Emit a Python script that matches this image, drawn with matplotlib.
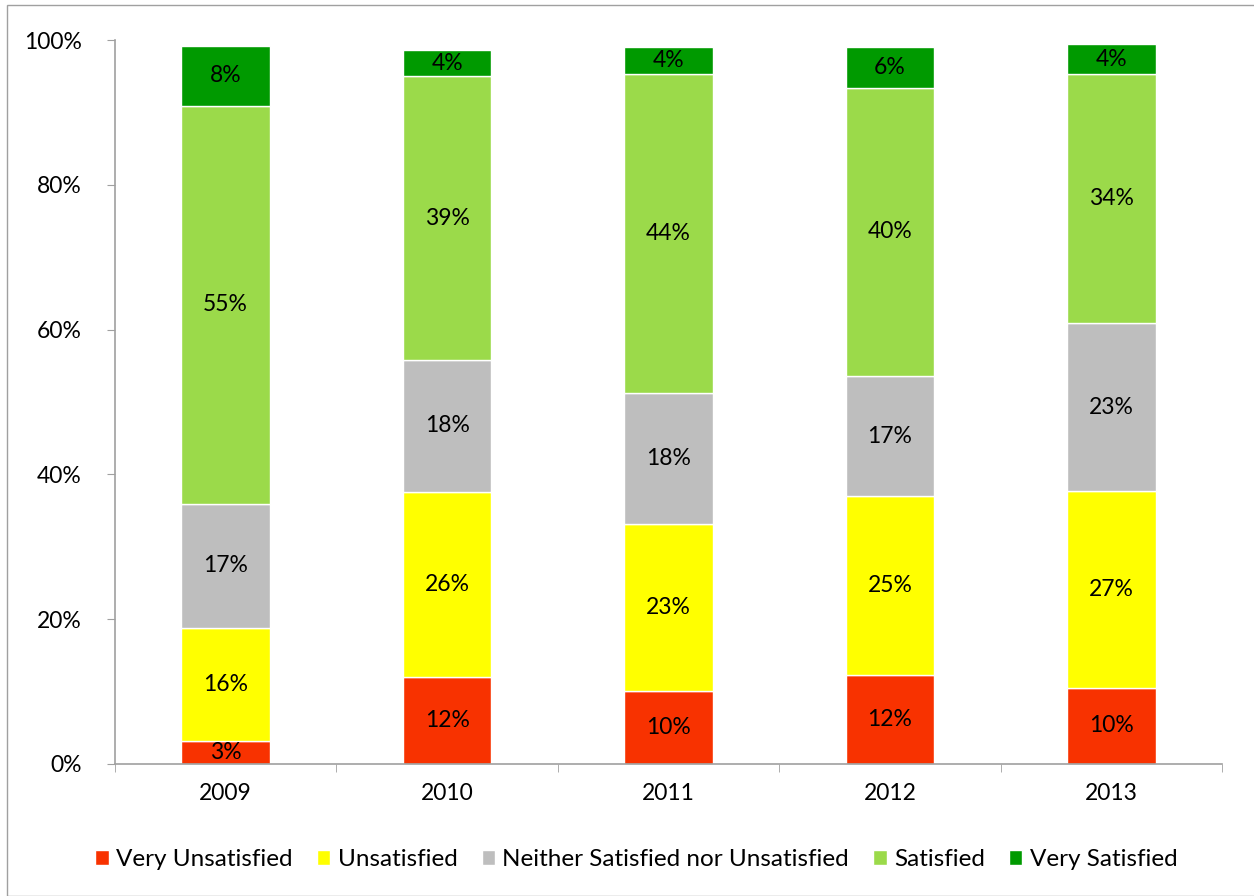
import matplotlib
matplotlib.use('Agg')
import matplotlib.pyplot as plt
from matplotlib.patches import Rectangle
from matplotlib.ticker import PercentFormatter

plt.rcParams['font.family'] = ['Lato', 'DejaVu Sans']

years = ['2009', '2010', '2011', '2012', '2013']
categories = ['Very Unsatisfied', 'Unsatisfied', 'Neither Satisfied nor Unsatisfied',
              'Satisfied', 'Very Satisfied']
# percentajes por año (de abajo hacia arriba)
very_unsat = [3.2, 12.0, 10.1, 12.3, 10.5]
unsat = [15.6, 25.6, 23.0, 24.7, 27.2]
neither = [17.1, 18.2, 18.1, 16.6, 23.2]
sat = [55.0, 39.2, 44.1, 39.8, 34.4]
very_sat = [8.3, 3.6, 3.7, 5.6, 4.1]
labels = [['3%', '12%', '10%', '12%', '10%'],
          ['16%', '26%', '23%', '25%', '27%'],
          ['17%', '18%', '18%', '17%', '23%'],
          ['55%', '39%', '44%', '40%', '34%'],
          ['8%', '4%', '4%', '6%', '4%']]
colors = ['#F83200', '#FFFF00', '#BEBEBE', '#9BDA4A', '#009A00']

series = [very_unsat, unsat, neither, sat, very_sat]

fig = plt.figure(figsize=(12.54, 8.96), dpi=100)
ax = fig.add_axes([115/1254, 1 - 764/896, (1222-115)/1254, (764-40)/896])

# borde del área del gráfico
fig.patches.append(Rectangle((7/1254, 0), 1.2, 1 - 5/896, transform=fig.transFigure,
                             fill=False, edgecolor='#A0A0A0', linewidth=1))

x = list(range(len(years)))
bottom = [0.0] * len(years)
for vals, col, name, labs in zip(series, colors, categories, labels):
    ax.bar(x, vals, bottom=bottom, width=0.4, color=col, edgecolor='white',
           linewidth=1, label=name)
    for i, v in enumerate(vals):
        ax.text(x[i], bottom[i] + v / 2, labs[i], ha='center', va='center',
                fontsize=16.5, color='black')
    bottom = [b + v for b, v in zip(bottom, vals)]

ax.set_xlim(-0.5, len(years) - 0.5)
ax.set_ylim(0, 100)
ax.set_yticks([0, 20, 40, 60, 80, 100])
ax.yaxis.set_major_formatter(PercentFormatter(decimals=0))
ax.set_xticks(x)
ax.set_xticklabels(years)
ax.set_xticks([i + 0.5 for i in range(-1, len(years))], minor=True)
ax.tick_params(axis='x', which='major', length=0, pad=14, labelsize=16.5)
ax.tick_params(axis='x', which='minor', length=6, color='#A0A0A0')
ax.tick_params(axis='y', length=6, color='#A0A0A0', labelsize=16.5, pad=18)

for s in ['top', 'right']:
    ax.spines[s].set_visible(False)
for s in ['left', 'bottom']:
    ax.spines[s].set_color('#A0A0A0')
    ax.spines[s].set_linewidth(1.2)

ax.legend(loc='center', bbox_to_anchor=(0.471, -0.132), ncol=5, frameon=False,
          fontsize=17.5, handlelength=0.55, handleheight=0.55, handletextpad=0.3,
          columnspacing=1.0)

fig.savefig('out.png', dpi=100)
